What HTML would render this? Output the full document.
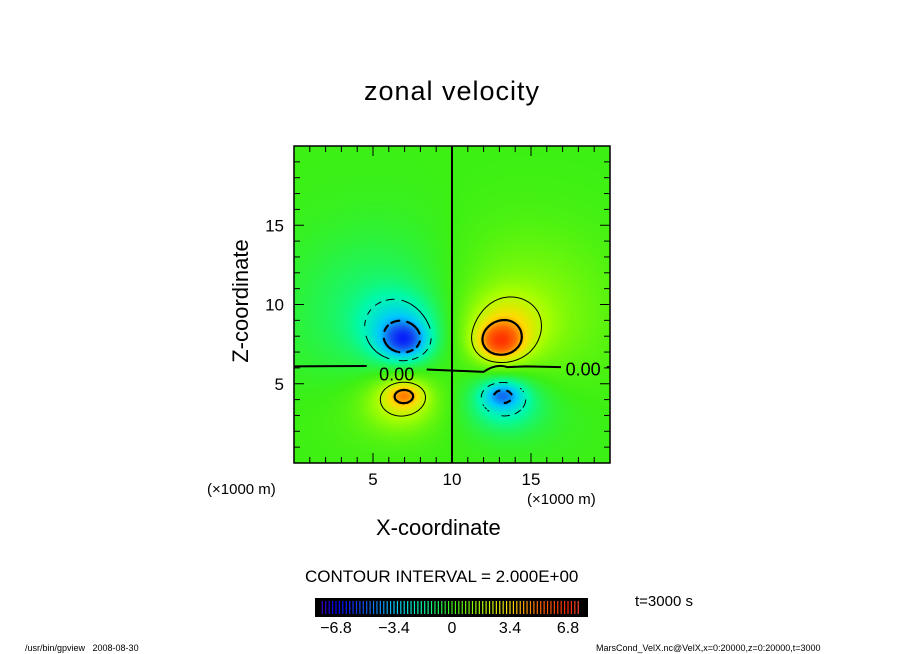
<!DOCTYPE html>
<html><head><meta charset="utf-8"><style>
body{margin:0;background:#fff;width:904px;height:654px;overflow:hidden;position:relative;font-family:"Liberation Sans","DejaVu Sans",sans-serif}
.t{position:absolute;white-space:nowrap;color:#000}
</style></head><body>
<div class="t" style="left:0;width:904px;text-align:center;top:76px;font-size:27px;letter-spacing:1px">zonal velocity</div>
<svg id="svg" width="904" height="654" style="position:absolute;left:0;top:0">
  <foreignObject x="294" y="146" width="316" height="317"><canvas id="cv" width="316" height="317" xmlns="http://www.w3.org/1999/xhtml"></canvas></foreignObject>
  <g id="cont"></g>
  <g id="axes"></g>
  <g id="cbar"></g>
</svg>
<div class="t" style="left:176px;top:290px;font-size:22px;transform:rotate(-90deg);transform-origin:64px 12px;width:130px;text-align:center">Z-coordinate</div>
<div class="t" style="left:376px;top:515px;font-size:22px">X-coordinate</div>
<div class="t" style="left:207px;top:481px;font-size:15px">(×1000 m)</div>
<div class="t" style="left:527px;top:491px;font-size:15px">(×1000 m)</div>
<div class="t" style="left:305px;top:567px;font-size:17px">CONTOUR INTERVAL = 2.000E+00</div>
<div class="t" style="left:635px;top:593px;font-size:15px">t=3000 s</div>
<div class="t" style="left:25px;top:643px;font-size:9px">/usr/bin/gpview&nbsp;&nbsp;&nbsp;2008-08-30</div>
<div class="t" style="left:596px;top:643px;font-size:9px">MarsCond_VelX.nc@VelX,x=0:20000,z=0:20000,t=3000</div>
<script>
const blobX=[7,13,7,13.2,6.6,13.4,6.8,13.3,5.8,14.2,6,14];
const blobZ=[7.7,7.6,4.3,4.3,8.6,8.6,3.9,3.9,9.5,9.5,3.5,3.5];
const blobAmp=[-3.6,3.9,2.6,-2.6,-2.2,2.3,2.1,-2.1,-1.2,1.3,0.6,-0.6];
const blobSigX=[1.0,1.0,0.8,0.8,1.6,1.6,1.5,1.5,4,4,3,3];
const blobSigZ=[0.8,0.8,0.55,0.55,1.4,1.4,1.15,1.15,3.5,3.5,2,2];
const levels=[-4,-2,2,4];
const xTicks=[5,10,15];const zTicks=[5,10,15];
const cbLabels=[-6.8,-3.4,0,3.4,6.8];
const X0=294,Y0=146,W=316,H=317;
const sx=v=>X0+v/20*W, sz=v=>Y0+H-v/20*H;
function field(x,z){let s=0;for(let i=0;i<blobX.length;i++){const dx=(x-blobX[i])/blobSigX[i],dz=(z-blobZ[i])/blobSigZ[i];s+=blobAmp[i]*Math.exp(-(dx*dx+dz*dz)/2);}return s;}
const stops=[[-8,[90,0,180]],[-6.8,[0,0,255]],[-5,[20,90,240]],[-3.4,[0,200,255]],[-1.7,[0,250,170]],[0,[60,240,20]],[1.7,[170,255,0]],[3.4,[255,220,0]],[5,[255,110,0]],[6.8,[255,40,0]],[8,[255,100,100]]];
function col(v){if(v<=stops[0][0])return stops[0][1];for(let i=1;i<stops.length;i++){if(v<=stops[i][0]){const a=stops[i-1],b=stops[i],t=(v-a[0])/(b[0]-a[0]);return a[1].map((c,k)=>Math.round(c+(b[1][k]-c)*t));}}return stops[stops.length-1][1];}
const cv=document.getElementById('cv'),ctx=cv.getContext('2d'),img=ctx.createImageData(W,H);
for(let j=0;j<H;j++)for(let i=0;i<W;i++){const c=col(field((i+0.5)/W*20,20-(j+0.5)/H*20));const p=(j*W+i)*4;img.data[p]=c[0];img.data[p+1]=c[1];img.data[p+2]=c[2];img.data[p+3]=255;}
ctx.putImageData(img,0,0);
const NS='http://www.w3.org/2000/svg';
function mk(tag,attrs,parent){const e=document.createElementNS(NS,tag);for(const k in attrs)e.setAttribute(k,attrs[k]);parent.appendChild(e);return e;}
const cont=document.getElementById('cont');const N=120;
levels.forEach(L=>{let d='';
 for(let j=0;j<N;j++)for(let i=0;i<N;i++){
  if(L<0 && Math.floor((i+j)/3)%2==1)continue;
  const x0=i/N*20,x1=(i+1)/N*20,z0=j/N*20,z1=(j+1)/N*20;
  const v=[field(x0,z0),field(x1,z0),field(x1,z1),field(x0,z1)];
  const P=[[x0,z0],[x1,z0],[x1,z1],[x0,z1]];const pts=[];
  for(let e=0;e<4;e++){const a=v[e],b=v[(e+1)%4];if((a-L)*(b-L)<0){const t=(L-a)/(b-a);const A=P[e],B=P[(e+1)%4];pts.push([A[0]+(B[0]-A[0])*t,A[1]+(B[1]-A[1])*t]);}}
  for(let k=0;k+1<pts.length;k+=2)d+=`M${sx(pts[k][0]).toFixed(1)},${sz(pts[k][1]).toFixed(1)}L${sx(pts[k+1][0]).toFixed(1)},${sz(pts[k+1][1]).toFixed(1)}`;
 }
 const p=mk('path',{d:d,stroke:'#000','stroke-width':Math.abs(L)>=4?2.2:1,fill:'none','stroke-linecap':'round'},cont);
 
 
});
const zl=mk('path',{d:`M${sx(0)},${sz(6.1)}L${sx(4.6)},${sz(6.12)}M${sx(8.4)},${sz(5.9)}L${sx(12)},${sz(5.75)}Q${sx(12.8)},${sz(6.3)} ${sx(13.5)},${sz(6.05)}L${sx(14.7)},${sz(6.1)}L${sx(16.9)},${sz(6.05)}M${sx(19.8)},${sz(6.05)}L${sx(20)},${sz(6.05)}M${sx(10)},${sz(0)}L${sx(10)},${sz(20)}`,stroke:'#000','stroke-width':2,fill:'none'},cont);


[[6.5,5.65],[18.3,5.95]].forEach(p=>{const t=mk('text',{x:sx(p[0]),y:sz(p[1])+7,'font-size':18,'text-anchor':'middle','font-family':'Liberation Sans, sans-serif'},cont);t.textContent='0.00';

});
const ax=document.getElementById('axes');
const fr=mk('rect',{x:X0,y:Y0,width:W,height:H,fill:'none',stroke:'#000','stroke-width':1.5},ax);


for(let v=1;v<20;v++){const L=v%5==0?10:6;
 mk('line',{x1:sx(v),x2:sx(v),y1:Y0+H,y2:Y0+H-L,stroke:'#000'},ax);mk('line',{x1:sx(v),x2:sx(v),y1:Y0,y2:Y0+L,stroke:'#000'},ax);
 mk('line',{x1:X0,x2:X0+L,y1:sz(v),y2:sz(v),stroke:'#000'},ax);mk('line',{x1:X0+W,x2:X0+W-L,y1:sz(v),y2:sz(v),stroke:'#000'},ax);}
xTicks.forEach(v=>{const t=mk('text',{x:sx(v),y:Y0+H+22,'font-size':17,'text-anchor':'middle','font-family':'Liberation Sans, sans-serif'},ax);t.textContent=v;

});
zTicks.forEach(v=>{const t=mk('text',{x:X0-10,y:sz(v)+6,'font-size':17,'text-anchor':'end','font-family':'Liberation Sans, sans-serif'},ax);t.textContent=v;

});
const cb=document.getElementById('cbar');const CX0=315,CX1=588,CY=598,CH=19;
const bg=mk('rect',{x:CX0,y:CY,width:CX1-CX0,height:CH,fill:'#000'},cb);


const cbx=v=>452+(v/6.8)*116;
for(let v=-7.6;v<=7.6;v+=0.2){const x=cbx(v);if(x<CX0+5||x>CX1-5)continue;const c=col(v);
 mk('line',{x1:x,x2:x,y1:CY+3,y2:CY+CH-3,stroke:`rgb(${c})`,'stroke-width':1.2},cb);}
cbLabels.forEach(v=>{const t=mk('text',{x:cbx(v),y:CY+CH+16,'font-size':16,'text-anchor':'middle','font-family':'Liberation Sans, sans-serif'},cb);t.textContent=v==0?'0':(v<0?'−'+(-v):v);

});
</script>
</body></html>
